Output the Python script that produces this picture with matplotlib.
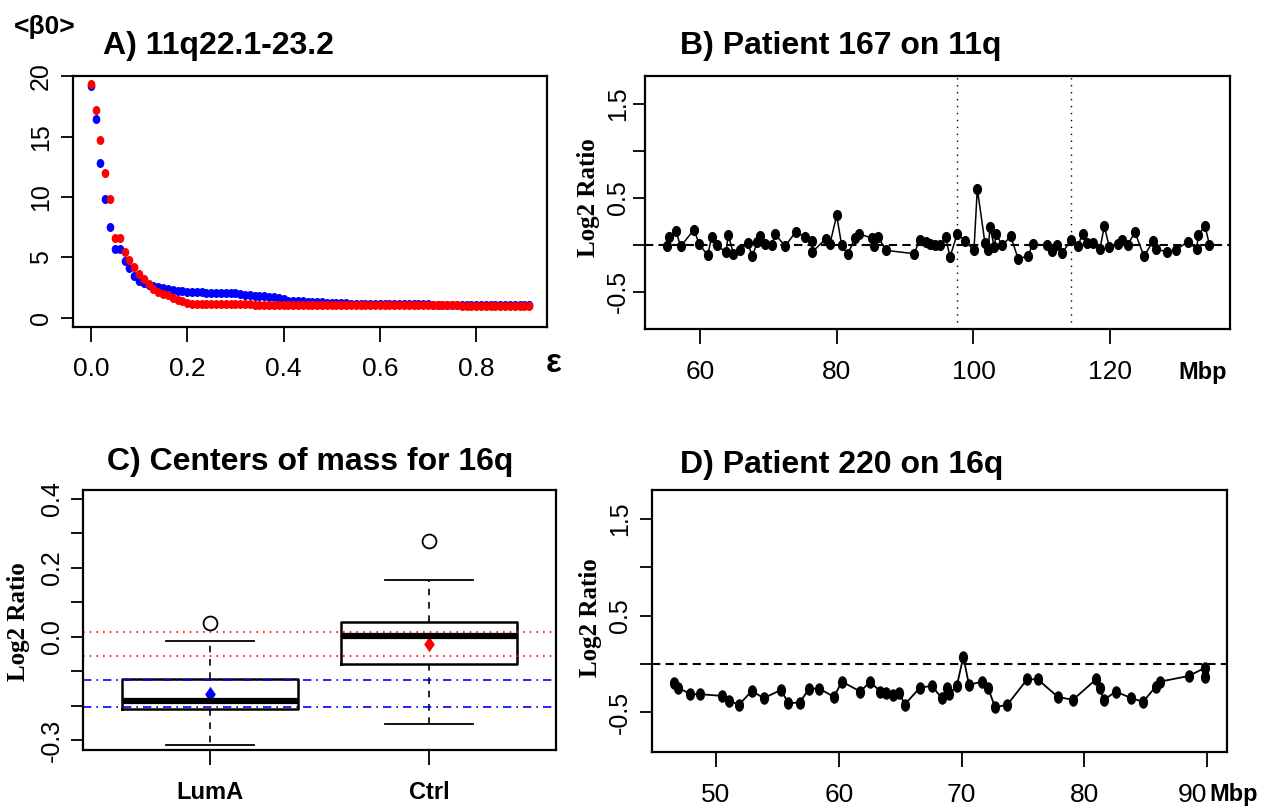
import numpy as np
import matplotlib.pyplot as plt
from matplotlib import font_manager
from matplotlib.path import Path
from matplotlib.transforms import Affine2D

plt.rcParams['font.family'] = ['Liberation Sans', 'DejaVu Sans']
_names = {f.name for f in font_manager.fontManager.ttflist}
NARROW = 'Liberation Sans Narrow' if 'Liberation Sans Narrow' in _names else 'Liberation Sans'

W, H = 1265, 808

# ---- panel A: <beta0> against epsilon, two filtrations
eps = [0.00, 0.01, 0.02, 0.03, 0.04, 0.05, 0.06, 0.07, 0.08, 0.09,
       0.10, 0.11, 0.12, 0.13, 0.14, 0.15, 0.16, 0.17, 0.18, 0.19,
       0.20, 0.21, 0.22, 0.23, 0.24, 0.25, 0.26, 0.27, 0.28, 0.29,
       0.30, 0.31, 0.32, 0.33, 0.34, 0.35, 0.36, 0.37, 0.38, 0.39,
       0.40, 0.41, 0.42, 0.43, 0.44, 0.45, 0.46, 0.47, 0.48, 0.49,
       0.50, 0.51, 0.52, 0.53, 0.54, 0.55, 0.56, 0.57, 0.58, 0.59,
       0.60, 0.61, 0.62, 0.63, 0.64, 0.65, 0.66, 0.67, 0.68, 0.69,
       0.70, 0.71, 0.72, 0.73, 0.74, 0.75, 0.76, 0.77, 0.78, 0.79,
       0.80, 0.81, 0.82, 0.83, 0.84, 0.85, 0.86, 0.87, 0.88, 0.89,
       0.90, 0.91]
beta_blue = [19.2, 16.45, 12.85, 9.8, 7.5, 5.7, 5.7, 4.7, 4.15, 3.45,
             3.05, 2.85, 2.72, 2.62, 2.5, 2.42, 2.36, 2.28, 2.23, 2.18,
             2.14, 2.12, 2.11, 2.10, 2.08, 2.07, 2.05, 2.04, 2.03, 2.02,
             2.01, 2.00, 1.88, 1.86, 1.83, 1.82, 1.80, 1.74, 1.70, 1.64,
             1.56, 1.42, 1.38, 1.36, 1.35, 1.33, 1.31, 1.29, 1.27, 1.22,
             1.21, 1.20, 1.19, 1.18, 1.17, 1.17, 1.16, 1.15, 1.15, 1.14,
             1.14, 1.13, 1.13, 1.12, 1.12, 1.11, 1.11, 1.10, 1.10, 1.09,
             1.09, 1.08, 1.08, 1.08, 1.07, 1.07, 1.07, 1.06, 1.06, 1.06,
             1.05, 1.05, 1.05, 1.04, 1.04, 1.04, 1.03, 1.03, 1.03, 1.03,
             1.02, 1.02]
beta_red = [19.4, 17.2, 14.7, 12.0, 9.8, 6.6, 6.6, 5.45, 4.8, 4.2,
            3.6, 3.2, 2.8, 2.4, 2.1, 1.95, 1.85, 1.65, 1.5, 1.35,
            1.2, 1.13, 1.12, 1.12, 1.12, 1.11, 1.11, 1.11, 1.11, 1.10,
            1.10, 1.10, 1.09, 1.09, 1.08, 1.08, 1.08, 1.08, 1.07, 1.07,
            1.07, 1.07, 1.06, 1.06, 1.06, 1.06, 1.06, 1.05, 1.05, 1.05,
            1.05, 1.05, 1.04, 1.04, 1.04, 1.04, 1.04, 1.03, 1.03, 1.03,
            1.03, 1.03, 1.03, 1.02, 1.02, 1.02, 1.02, 1.02, 1.02, 1.02,
            1.02, 1.01, 1.01, 1.01, 1.01, 1.01, 1.01, 1.00, 1.00, 1.00,
            1.00, 1.00, 1.00, 1.00, 0.99, 0.99, 0.99, 0.99, 0.99, 0.99,
            0.99, 0.99]

# ---- panel B: patient 167, chromosome 11q
mbp_167 = [55.08, 55.42, 56.44, 57.13, 59.08, 59.81, 61.08, 61.66, 62.40, 63.76,
           64.10, 64.84, 65.81, 66.94, 67.62, 68.35, 68.74, 69.47, 70.55, 70.94,
           72.40, 73.96, 75.33, 76.31, 76.40, 78.36, 78.99, 79.97, 80.70, 81.58,
           82.65, 83.28, 85.09, 85.43, 86.07, 87.19, 91.29, 92.16, 93.04, 93.63,
           94.36, 95.09, 95.92, 96.56, 97.63, 98.75, 100.07, 100.56, 101.68, 102.17,
           102.41, 103.05, 103.29, 104.22, 105.44, 106.56, 108.03, 108.66, 110.71, 111.44,
           112.17, 113.00, 114.23, 115.25, 115.98, 116.67, 117.55, 118.52, 119.16, 119.89,
           121.21, 121.70, 122.58, 123.65, 124.97, 126.33, 126.72, 128.29, 129.66, 131.37,
           132.69, 132.93, 133.91, 134.54]
log2_167 = [-0.018, 0.082, 0.142, -0.018, 0.160, 0.011, -0.114, 0.082, -0.007, -0.078,
            0.107, -0.096, -0.061, 0.018, -0.125, 0.029, 0.089, 0.007, 0.000, 0.117,
            -0.018, 0.135, 0.082, 0.036, -0.078, 0.061, 0.011, 0.313, -0.007, -0.103,
            0.071, 0.114, 0.071, -0.018, 0.078, -0.061, -0.096, 0.053, 0.029, 0.011,
            0.000, -0.007, 0.078, -0.132, 0.117, 0.043, -0.061, 0.598, 0.018, -0.053,
            0.188, -0.028, 0.117, -0.007, 0.089, -0.153, -0.117, 0.007, -0.007, -0.071,
            -0.007, -0.089, 0.046, -0.018, 0.114, 0.018, 0.018, -0.043, 0.196, -0.025,
            0.007, 0.053, 0.000, 0.132, -0.125, 0.043, -0.043, -0.078, -0.053, 0.029,
            -0.043, 0.107, 0.196, 0.000]
region_11q = [97.54, 114.23]

# ---- panel C: centres of mass on 16q
groups = ['LumA', 'Ctrl']
whislo = [-0.314, -0.254]
q1 = [-0.210, -0.080]
med = [-0.186, 0.002]
q3 = [-0.124, 0.042]
whishi = [-0.0126, 0.164]
fliers = [[0.039], [0.278]]
means = [-0.166, -0.020]
mean_col = ['blue', 'red']
band_ctrl = [0.0126, -0.055]
band_luma = [-0.126, -0.204]

# ---- panel D: patient 220, chromosome 16q
mbp_220 = [46.57, 46.93, 47.92, 48.69, 50.53, 51.10, 51.87, 52.93, 53.89, 55.30,
           55.90, 56.82, 57.60, 58.41, 59.61, 60.25, 61.77, 62.54, 63.39, 63.85,
           64.38, 64.91, 65.37, 66.61, 67.60, 68.37, 68.80, 68.98, 69.61, 70.14,
           70.60, 71.66, 72.16, 72.72, 73.71, 75.34, 76.18, 77.84, 79.05, 80.95,
           81.24, 81.55, 82.54, 83.82, 84.77, 85.80, 86.15, 88.48, 89.82, 89.82]
log2_220 = [-0.199, -0.244, -0.312, -0.312, -0.330, -0.381, -0.422, -0.278, -0.353, -0.268,
            -0.405, -0.398, -0.254, -0.254, -0.340, -0.182, -0.285, -0.182, -0.285, -0.295,
            -0.322, -0.295, -0.419, -0.244, -0.226, -0.353, -0.250, -0.312, -0.226, 0.075,
            -0.216, -0.182, -0.250, -0.446, -0.422, -0.158, -0.158, -0.340, -0.371, -0.158,
            -0.244, -0.374, -0.285, -0.353, -0.391, -0.233, -0.182, -0.124, -0.038, -0.134]


def ax_rect(l, t, r, b):
    return [l / W, 1 - b / H, (r - l) / W, (b - t) / H]


def style(ax, xpad=12, ypad=6):
    for s in ax.spines.values():
        s.set_linewidth(1.6)
    ax.tick_params(direction='out', width=1.3)
    ax.tick_params(axis='x', length=11, pad=xpad)
    ax.tick_params(axis='y', length=8.5, pad=ypad, labelrotation=90)
    for lab in ax.get_xticklabels():
        lab.set_family(NARROW)
        lab.set_fontsize(19)
    for lab in ax.get_yticklabels():
        lab.set_family(NARROW)
        lab.set_fontsize(18)
        lab.set_va('center')


def ftext(px, py, s, **kw):
    fig.text(px / W, 1 - py / H, s, **kw)


fig = plt.figure(figsize=(12.65, 8.08), dpi=100)

dot_a = Path.unit_circle().transformed(Affine2D().scale(0.85, 1.0))
dot_b = Path.unit_circle().transformed(Affine2D().scale(0.8, 1.0))
dot_d = Path.unit_circle().transformed(Affine2D().scale(0.7, 1.0))

# A
axA = fig.add_axes(ax_rect(73.3, 75.7, 547, 326.7))
axA.plot(eps, beta_blue, ls='none', marker=dot_a, color='blue', ms=6.5, mew=0)
axA.plot(eps, beta_red, ls='none', marker=dot_a, color='red', ms=6.5, mew=0)
axA.set_xlim(-0.0364, 0.947)
axA.set_ylim(-0.75, 20.05)
axA.set_xticks([0.0, 0.2, 0.4, 0.6, 0.8])
axA.set_xticklabels(['0.0', '0.2', '0.4', '0.6', '0.8'])
axA.set_yticks([0, 5, 10, 15, 20])
style(axA, xpad=11, ypad=6)

# B
axB = fig.add_axes(ax_rect(644.7, 76, 1230, 329))
axB.axhline(0, color='k', lw=1.5, ls=(0, (4, 2.5)))
for xv in region_11q:
    axB.axvline(xv, color='k', lw=1.0, ls=(0, (1, 4)))
axB.plot(mbp_167, log2_167, '-', color='k', lw=1.1, marker=dot_b, ms=7)
axB.set_xlim(51.86, 137.56)
axB.set_ylim(-0.9, 1.8)
axB.set_xticks([60, 80, 100, 120])
axB.set_yticks([-0.5, 0.0, 0.5, 1.0, 1.5])
axB.set_yticklabels(['-0.5', '', '0.5', '', '1.5'])
style(axB, xpad=11, ypad=2)

# C
axC = fig.add_axes(ax_rect(83, 490, 556, 750))
stats = []
for i, g in enumerate(groups):
    stats.append(dict(label=g, whislo=whislo[i], q1=q1[i], med=med[i], q3=q3[i],
                      whishi=whishi[i], fliers=fliers[i]))
axC.bxp(stats, positions=[1, 2], widths=0.8, patch_artist=False,
        boxprops=dict(color='k', lw=1.8),
        medianprops=dict(color='k', lw=4.5, solid_capstyle='butt'),
        whiskerprops=dict(color='k', lw=1.2, ls=(0, (4, 4))),
        capprops=dict(color='k', lw=1.3),
        flierprops=dict(marker='o', mfc='none', mec='k', ms=10, mew=1.3))
diamond = Path([(0, 1), (0.7, 0), (0, -1), (-0.7, 0), (0, 1)],
               [Path.MOVETO, Path.LINETO, Path.LINETO, Path.LINETO, Path.CLOSEPOLY])
for i in range(2):
    axC.plot(i + 1, means[i], marker=diamond, color=mean_col[i], ms=11, mew=0)
for yv in band_ctrl:
    axC.axhline(yv, color='red', lw=1.2, ls=(0, (1, 3)))
for yv in band_luma:
    axC.axhline(yv, color='blue', lw=1.2, ls=(0, (5, 3, 1, 3)))
axC.set_xlim(0.42, 2.58)
axC.set_ylim(-0.329, 0.426)
axC.set_yticks([-0.3, -0.2, -0.1, 0.0, 0.1, 0.2, 0.3, 0.4])
axC.set_yticklabels(['-0.3', '', '', '0.0', '', '0.2', '', '0.4'])
style(axC, xpad=11, ypad=5)
axC.set_xticks([1, 2])
axC.set_xticklabels(groups, fontweight='bold', fontsize=17)

# D
axD = fig.add_axes(ax_rect(652, 490, 1227, 752))
axD.axhline(0, color='k', lw=1.5, ls=(0, (4, 2.5)))
axD.plot(mbp_220, log2_220, '-', color='k', lw=1.3, marker=dot_d, ms=8)
axD.set_xlim(44.8, 91.6)
axD.set_ylim(-0.91, 1.80)
axD.set_xticks([50, 60, 70, 80, 90])
axD.set_yticks([-0.5, 0.0, 0.5, 1.0, 1.5])
axD.set_yticklabels(['-0.5', '', '0.5', '', '1.5'])
style(axD, xpad=11, ypad=6)
axD.get_xticklabels()[-1].set_ha('right')

# titles and free labels
tkw = dict(fontsize=23, fontweight='bold', va='center', ha='left')
ftext(103, 46, 'A) 11q22.1-23.2', **tkw)
ftext(680, 46, 'B) Patient 167 on 11q', **tkw)
ftext(107, 462, 'C) Centers of mass for 16q', **tkw)
ftext(680, 465, 'D) Patient 220 on 16q', **tkw)

ftext(45, 27, '<\u03b20>', fontsize=19, fontweight='bold', ha='center', va='center')
ftext(554, 364, '\u03b5', fontsize=24, fontweight='bold', ha='center', va='center')
ftext(1203, 372, 'Mbp', fontsize=17, fontweight='bold', ha='center', va='center',
      family=NARROW)
ftext(1234, 795, 'Mbp', fontsize=17, fontweight='bold', ha='center', va='center',
      family=NARROW)

lkw = dict(fontsize=18, fontweight='bold', family='Liberation Serif',
           rotation=90, ha='center', va='center')
ftext(589, 198, 'Log2 Ratio', **lkw)
ftext(590, 618, 'Log2 Ratio', **lkw)
ftext(19, 622, 'Log2 Ratio', **lkw)

fig.savefig('out.png', dpi=100)
